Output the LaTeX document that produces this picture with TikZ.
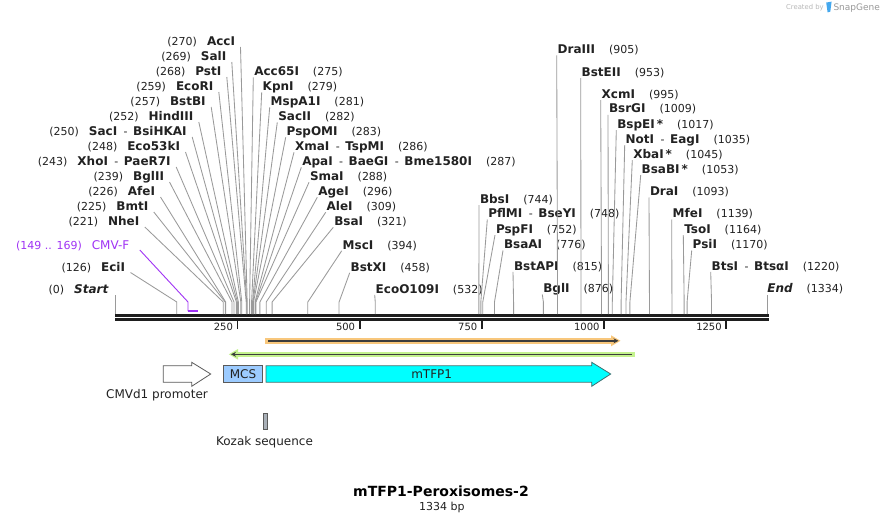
\documentclass[tikz,border=0pt]{standalone}
\usepackage{fontspec}
\setmainfont{DejaVu Sans}
\usetikzlibrary{arrows.meta}
\definecolor{sitegray}{HTML}{9A9A9A}
\definecolor{numcol}{HTML}{222222}
\definecolor{primcol}{HTML}{A033F5}
\definecolor{orfor}{HTML}{F8C77C}
\definecolor{orfgr}{HTML}{C4F28E}
\definecolor{orfline}{HTML}{3C3C3C}
\definecolor{mcsblue}{HTML}{9CCBFF}
\definecolor{kozakgray}{HTML}{A9B0B8}
\definecolor{featline}{HTML}{5A5A5A}
\definecolor{cdscyan}{HTML}{00FFFF}
\definecolor{cdsline}{HTML}{3F6F70}
\definecolor{bbcol}{HTML}{1E1E1E}
\definecolor{sglogo}{HTML}{45A8EE}
\newcommand\nm[1]{{\fontsize{12}{14}\selectfont\bfseries #1}}
\newcommand\sepr{\hspace{6.5pt}-\hspace{5.5pt}}
\newcommand\gapR{\hspace{14pt}}
\newcommand\gapL{\hspace{10pt}}
\begin{document}
\begin{tikzpicture}[x=1pt,y=-1pt,
  lab/.style={inner sep=0pt, outer sep=0pt, font=\fontsize{11}{13}\selectfont, text=numcol},
  L/.style={lab, anchor=base east},
  R/.style={lab, anchor=base west},
  site/.style={draw=sitegray, line width=0.85},
  featlab/.style={inner sep=0pt, font=\fontsize{12}{14}\selectfont, text=numcol}]
\useasboundingbox (0,0) rectangle (884,524);
\fill[white] (0,0) rectangle (884,524);

% site coordinates on the map
\foreach \b in {0,126,149,169,221,225,226,239,243,248,250,252,257,259,268,269,270,275,279,281,282,283,286,287,288,296,309,321,394,458,532,744,748,752,776,815,876,905,953,995,1009,1017,1035,1045,1053,1093,1139,1164,1170,1220,1334}
  \coordinate (s\b) at ({115.2+0.4888*\b},302);
\coordinate (bb) at (0,314);
\coordinate (pb) at (0,311);

% backbone
\draw[bbcol, line width=2.7] (115,315.3) -- (768.5,315.3);
\draw[bbcol, line width=2.7] (115,319.7) -- (768.5,319.7);
\foreach \t in {250,500,750,1000,1250} {
  \draw[bbcol, line width=1.8] ({115.2+0.4888*\t},321) -- ++(0,7.5);
  \node[lab, anchor=base east, font=\fontsize{10}{12}\selectfont] at ({115.2+0.4888*\t-4.5},330.7) {\t};
}

% left cluster (right aligned)
\node[L] (n270) at (235,45.5) {(270)\gapL\nm{AccI}};
\node[L] (n269) at (226.3,60.5) {(269)\gapL\nm{SalI}};
\node[L] (n268) at (221.3,75.5) {(268)\gapL\nm{PstI}};
\node[L] (n259) at (213.3,90.5) {(259)\gapL\nm{EcoRI}};
\node[L] (n257) at (205.7,105.5) {(257)\gapL\nm{BstBI}};
\node[L] (n252) at (193.3,120.5) {(252)\gapL\nm{HindIII}};
\node[L] (n250) at (186.7,135.5) {(250)\gapL\nm{SacI}\sepr\nm{BsiHKAI}};
\node[L] (n248) at (180,150.5) {(248)\gapL\nm{Eco53kI}};
\node[L] (n243) at (170.7,165.5) {(243)\gapL\nm{XhoI}\sepr\nm{PaeR7I}};
\node[L] (n239) at (164,180.5) {(239)\gapL\nm{BglII}};
\node[L] (n226) at (155,195.5) {(226)\gapL\nm{AfeI}};
\node[L] (n225) at (148.3,210.5) {(225)\gapL\nm{BmtI}};
\node[L] (n221) at (139.3,225.5) {(221)\gapL\nm{NheI}};
\node[L] (n126) at (125,271) {(126)\gapL\nm{EciI}};
\node[L] (n0) at (108.3,293) {(0)\gapL\nm{\itshape Start}};
\node[L, text=primcol] (cmvf) at (129.3,249) {(149 .. 169)\gapL{\fontsize{12}{14}\selectfont CMV-F}};

\foreach \n in {270,269,268,259,257,252,250,248,243,239,226,225,221,126}
  \draw[site] ([shift={(5.5,1.5)}]n\n.base east) -- (s\n) -- (s\n |- bb);
\draw[site] (s0 |- n0.base) ++(0,2) -- (s0 |- bb);

% primer CMV-F
\draw[primcol, line width=0.9] ([shift={(10.5,1)}]cmvf.base east) -- (s149) -- (s149 |- pb);
\draw[primcol, line width=2.2] ([xshift=-0.4pt]s149 |- pb) -- (s169 |- pb);

% middle cluster (left aligned)
\node[R] (n275) at (254.3,75.5) {\nm{Acc65I}\gapR(275)};
\node[R] (n279) at (262.7,90.5) {\nm{KpnI}\gapR(279)};
\node[R] (n281) at (270.7,105.5) {\nm{MspA1I}\gapR(281)};
\node[R] (n282) at (278.3,120.5) {\nm{SacII}\gapR(282)};
\node[R] (n283) at (286.7,135.5) {\nm{PspOMI}\gapR(283)};
\node[R] (n286) at (295,150.5) {\nm{XmaI}\sepr\nm{TspMI}\gapR(286)};
\node[R] (n287) at (302.3,165.5) {\nm{ApaI}\sepr\nm{BaeGI}\sepr\nm{Bme1580I}\gapR(287)};
\node[R] (n288) at (310,180.5) {\nm{SmaI}\gapR(288)};
\node[R] (n296) at (318.3,195.5) {\nm{AgeI}\gapR(296)};
\node[R] (n309) at (326.7,210.5) {\nm{AleI}\gapR(309)};
\node[R] (n321) at (334.3,225.5) {\nm{BsaI}\gapR(321)};
\node[R] (n394) at (342.7,249) {\nm{MscI}\gapR(394)};
\node[R] (n458) at (350.7,271) {\nm{BstXI}\gapR(458)};
\node[R] (n532) at (375.7,293) {\nm{EcoO109I}\gapR(532)};

% middle-right cluster
\node[R] (n744) at (480,203.3) {\nm{BbsI}\gapR(744)};
\node[R] (n748) at (488.3,217.7) {\nm{PflMI}\sepr\nm{BseYI}\gapR(748)};
\node[R] (n752) at (496,233.3) {\nm{PspFI}\gapR(752)};
\node[R] (n776) at (504,248.7) {\nm{BsaAI}\gapR(776)};
\node[R] (n815) at (514,270) {\nm{BstAPI}\gapR(815)};
\node[R] (n876) at (543.3,292.7) {\nm{BglI}\gapR(876)};

% right cluster
\node[R] (n905) at (557.7,53.5) {\nm{DraIII}\gapR(905)};
\node[R] (n953) at (581.7,76.3) {\nm{BstEII}\gapR(953)};
\node[R] (n995) at (601.7,98.3) {\nm{XcmI}\gapR(995)};
\node[R] (n1009) at (609,113) {\nm{BsrGI}\gapR(1009)};
\node[R] (n1017) at (617.3,128.3) {\nm{BspEI\,*}\gapR(1017)};
\node[R] (n1035) at (625.7,143.3) {\nm{NotI}\sepr\nm{EagI}\gapR(1035)};
\node[R] (n1045) at (633.3,158.3) {\nm{XbaI\,*}\gapR(1045)};
\node[R] (n1053) at (641.7,173.3) {\nm{BsaBI\,*}\gapR(1053)};
\node[R] (n1093) at (650,195.7) {\nm{DraI}\gapR(1093)};
\node[R] (n1139) at (672.7,217.7) {\nm{MfeI}\gapR(1139)};
\node[R] (n1164) at (684.3,233.3) {\nm{TsoI}\gapR(1164)};
\node[R] (n1170) at (692.7,248.7) {\nm{PsiI}\gapR(1170)};
\node[R] (n1220) at (711.7,270) {\nm{BtsI}\sepr\nm{BtsαI}\gapR(1220)};
\node[R] (n1334) at (767.3,292.7) {\nm{\itshape End}\gapR(1334)};

\foreach \n in {275,279,281,282,283,286,287,288,296,309,321,394,458,532,744,748,752,776,815,876,905,953,995,1009,1017,1035,1045,1053,1093,1139,1164,1170,1220}
  \draw[site] ([shift={(-1,1.8)}]n\n.base west) -- (s\n) -- (s\n |- bb);
\draw[site] (s1334 |- n1334.base) ++(0,2.5) -- (s1334 |- bb);

% ORFs
\fill[orfor] (265,337.8) rectangle (613,343.8);
\fill[orfor] (611,335.3) -- (620.5,340.8) -- (611,346.3) -- cycle;
\draw[orfline, line width=1.5, -{Stealth[length=5,width=5]}] (268,340.8) -- (618.5,340.8);
\fill[orfgr] (236,351.5) rectangle (635,357);
\fill[orfgr] (238,349) -- (228.8,354.3) -- (238,359.6) -- cycle;
\draw[orfline, line width=1.5, -{Stealth[length=5,width=5]}] (632,354.3) -- (231,354.3);

% features
\draw[featline, fill=white, line width=0.8] (163.3,365.7) -- (191.7,365.7) -- (191.7,362.3) -- (210.7,374) -- (191.7,386.3) -- (191.7,382.3) -- (163.3,382.3) -- cycle;
\node[featlab] (prom) at (157,395) {CMVd1 promoter};
\node[draw=featline, fill=mcsblue, line width=0.8, minimum width=39.4pt, minimum height=16.3pt, inner sep=0pt, font=\fontsize{12}{14}\selectfont, text=numcol] (mcs) at (243,374) {MCS};
\draw[cdsline, fill=cdscyan, line width=0.8] (266,365.8) -- (591.7,365.8) -- (591.7,362.3) -- (610.7,374) -- (591.7,386.3) -- (591.7,382.2) -- (266,382.2) -- cycle;
\node[featlab] (mtfp) at (431.7,374) {mTFP1};
\draw[featline, fill=kozakgray, line width=0.8] (263.3,413) rectangle (267.3,429);
\node[featlab] (kozak) at (264.5,442) {Kozak sequence};

% title
\node[inner sep=0pt, anchor=base, font=\fontsize{14}{16}\selectfont\bfseries] (title) at (441,496.7) {mTFP1-Peroxisomes-2};
\node[inner sep=0pt, anchor=base, font=\fontsize{11}{13}\selectfont, text=numcol] (len) at (441.8,510.7) {1334 bp};

% watermark
\node[inner sep=0pt, anchor=base west, font=\fontsize{6.8}{8}\selectfont, text=black!28] (cb) at (786,9.3) {Created by};
\fill[sglogo] (826.2,2.6) -- (831.6,1.6) -- (830.3,11.6) -- (827.6,12.4) -- cycle;
\node[inner sep=0pt, anchor=base west, font=\fontsize{9}{10}\selectfont, text=black!40] (sg) at (833.3,11) {SnapGene};
\end{tikzpicture}
\end{document}
